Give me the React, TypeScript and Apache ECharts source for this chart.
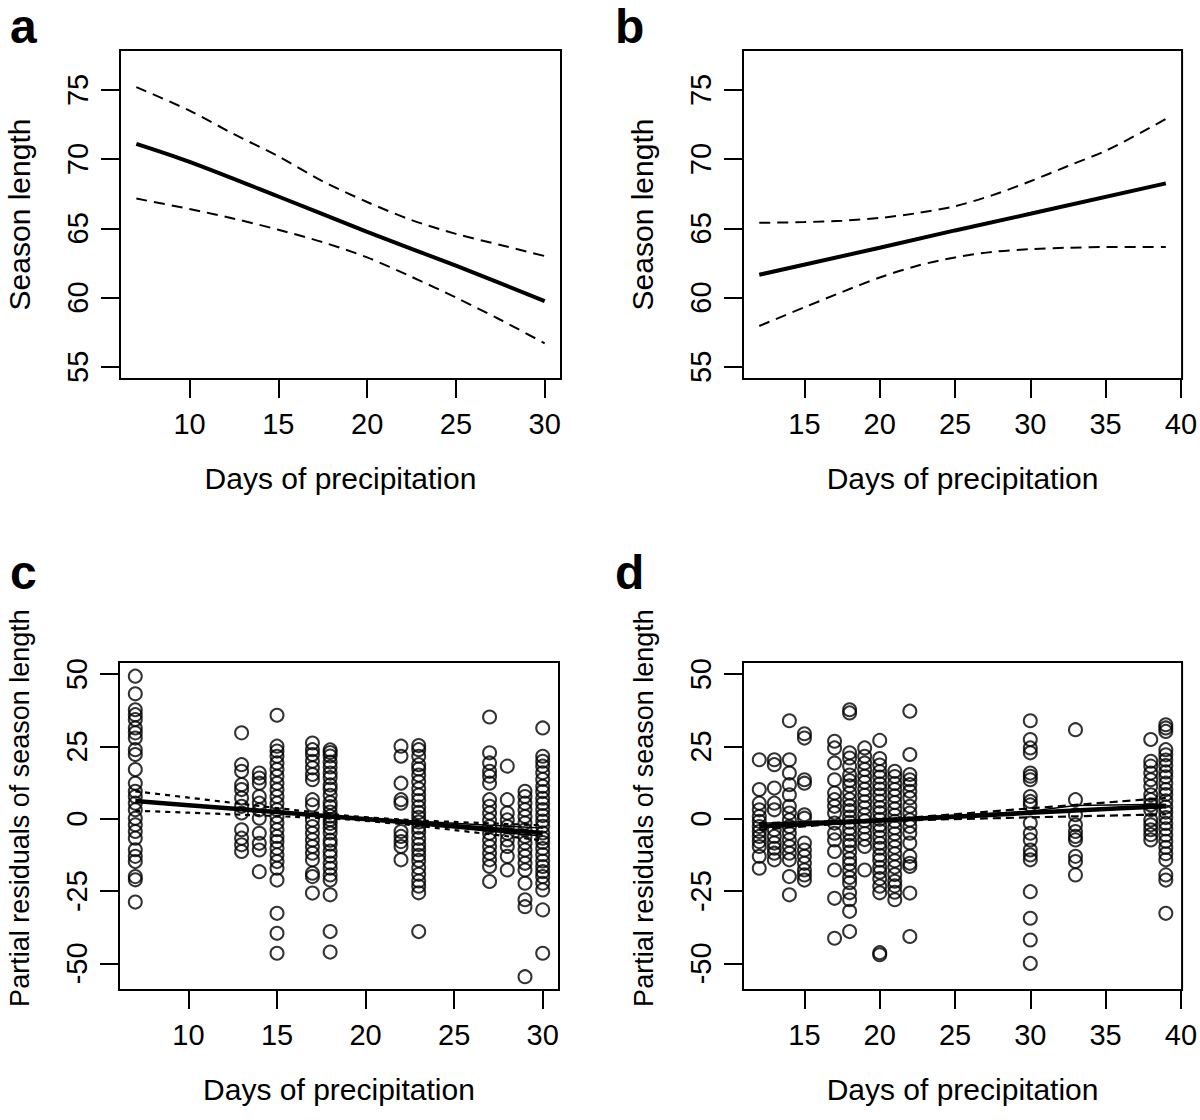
import React, { useEffect, useRef } from "react";
import * as echarts from "echarts";

const FONT = "'Liberation Sans', Arial, Helvetica, sans-serif";

// Tick values
const xTicksAC = [10, 15, 20, 25, 30];
const xTicksBD = [15, 20, 25, 30, 35, 40];
const yTicksAB = [55, 60, 65, 70, 75];
const yTicksCD = [-50, -25, 0, 25, 50];

// Panel a: fitted line and confidence band
const aFitX = [7, 10, 15, 20, 25, 30];
const aFitY = [71.1, 69.8, 67.3, 64.75, 62.3, 59.75];
const aCiX = [7, 10, 12.5, 15, 17.5, 20, 22.5, 25, 27.5, 30];
const aUpperY = [75.2, 73.5, 71.8, 70.2, 68.4, 66.9, 65.6, 64.6, 63.8, 63.0];
const aLowerY = [67.15, 66.4, 65.7, 64.9, 64.0, 62.9, 61.5, 60.0, 58.4, 56.7];

// Panel b
const bFitX = [12, 20, 25, 30, 39];
const bFitY = [61.65, 63.6, 64.85, 66.05, 68.25];
const bCiX = [12, 15, 17.5, 20, 22.5, 25, 27.5, 30, 32.5, 35, 37.5, 39];
const bUpperY = [65.4, 65.45, 65.55, 65.75, 66.1, 66.6, 67.4, 68.4, 69.5, 70.6, 72.0, 72.9];
const bLowerY = [57.95, 59.3, 60.4, 61.45, 62.3, 62.9, 63.3, 63.5, 63.6, 63.65, 63.65, 63.65];

// Panel c: partial residuals by column (days of precipitation)
const cColumns: [number, number[]][] = [
  [7, [49.3, 43.2, 37.7, 36, 34.3, 31.4, 29.7, 27.9, 23.9, 22.2, 17, 12.3, 9.5, 7.7, 5.4, 3.1, 0.2, -2.1, -4.4, -6.7, -10.7, -13, -14.8, -20, -21.1, -28.8]],
  [13, [29.7, 18.7, 16.4, 11.8, 10.1, 7.2, 4.3, 2, -3.8, -6.7, -9, -11.3]],
  [14, [15.8, 14.1, 12.3, 7.7, 5.4, 3.1, 0.2, -5, -8.5, -10.8, -18.3]],
  [15, [35.8, 25.1, 23.4, 21.6, 19.3, 17, 14.7, 12.3, 10, 7.7, 5.4, 3.1, 0.8, -1.5, -3.8, -6.1, -7.9, -10.2, -12.5, -14.8, -17.1, -21.2, -32.7, -39.6, -46.5]],
  [17, [26.2, 23.9, 22.2, 19.9, 17.6, 15.3, 13.5, 6.6, 4.8, -0.4, -2.7, -5, -7.3, -9.6, -11.9, -14.2, -18.8, -20, -25.7]],
  [18, [23.8, 22.9, 21.7, 19.6, 17.9, 15.8, 14.2, 11.7, 10.3, 8.1, 5.6, 4.2, 2.3, 0.9, -0.3, -1.6, -3.2, -4.9, -7.4, -8.8, -11.2, -12.9, -15.3, -17.1, -19.4, -21.2, -26.3, -39, -46.1]],
  [22, [25.1, 21.6, 12.3, 6.6, 5.4, -4.4, -6.1, -7.9, -9.6, -14.2]],
  [23, [25.3, 23.9, 21.6, 18.7, 17.2, 15.1, 12.8, 10.4, 8.2, 6.3, 4.1, 2.2, 0.5, -1.1, -2.9, -4.6, -6.8, -8.9, -10.7, -12.6, -14.4, -16.9, -19.2, -21.5, -23.3, -25.6, -39]],
  [27, [35.2, 22.8, 19.3, 16.4, 14.7, 12.3, 6.6, 4.3, 2, -0.4, -2.7, -5, -7.3, -9.6, -11.9, -14.2, -16.5, -21.7]],
  [28, [18.2, 6.6, 2, -0.4, -2.7, -5, -7.3, -9.6, -13, -17.7]],
  [29, [9.5, 7.7, 5.4, 3.1, 0.8, -1.5, -3.8, -6.1, -8.4, -10.8, -13, -15.4, -17.7, -22.3, -28, -30.4, -54.6]],
  [30, [31.4, 21.6, 19.9, 18.2, 15.9, 13.6, 11.2, 9.4, 7.1, 5.3, 3.2, 1.1, -0.8, -2.6, -4.9, -6.7, -8.2, -10.3, -12.4, -14.6, -16.5, -18.3, -20, -22.3, -24.6, -31.5, -46.5]],
];
const cLineX = [7, 10, 13, 16, 19, 22, 25, 28, 30];
const cFitY = [6.15, 4.71, 3.27, 1.83, 0.39, -1.05, -2.49, -3.93, -4.89];
const cUpperY = [9.5, 7.32, 5.14, 3.01, 1.04, -0.26, -1.09, -1.81, -2.28];
const cLowerY = [2.8, 2.1, 1.4, 0.65, -0.26, -1.84, -3.89, -6.05, -7.5];
const cThinX = [18, 23, 27, 30];
const cThin1Y = [1.0, -0.9, -2.2, -3.2];
const cThin2Y = [0.7, -2.0, -4.3, -6.0];

// Panel d
const dColumns: [number, number[]][] = [
  [12, [20.4, 10.1, 5.4, 3.1, 0.8, -0.9, -2.7, -4.4, -6.1, -7.9, -9.6, -13, -17.1]],
  [13, [20.4, 18.7, 10.6, 5.4, 3.1, -3.8, -6.1, -8.4, -10.2, -11.9, -14.2]],
  [14, [33.9, 20.4, 15.8, 11.8, 8.3, 4.3, 2, -0.4, -2.7, -5, -7.3, -9.6, -11.9, -14.2, -20, -26.3]],
  [15, [29.4, 27.9, 13.5, 12.3, 1.4, 0.2, -8.4, -10.8, -13, -15.4, -17.7, -19.4, -21.2]],
  [17, [26.8, 24.5, 19.3, 13.5, 8.9, 6.6, 4.3, 2, -1.5, -5, -7.3, -11.3, -17.7, -27.5, -41.3]],
  [18, [37.7, 36.6, 22.8, 21, 18.2, 15.1, 13.2, 11.4, 8.9, 6.7, 4.5, 2.8, 0.6, -1.2, -3.4, -5.3, -7.6, -9.2, -11.5, -13.8, -15.6, -17.9, -20.3, -22.1, -25.6, -28, -32, -39]],
  [19, [24.5, 21.6, 19.3, 17, 14.7, 12.6, 10.2, 8.1, 5.9, 3.8, 1.4, -0.7, -2.8, -5.1, -7.2, -9.6, -17.7]],
  [20, [27.1, 20.8, 18.6, 16.3, 14.4, 12.1, 10.3, 8.2, 6.1, 3.9, 2.1, -0.2, -2.3, -4.1, -6.4, -8.5, -10.2, -12.6, -14.3, -16.8, -18.5, -20.7, -23.3, -25.6, -46.3, -47]],
  [21, [16.4, 14.6, 12.2, 10.1, 7.9, 5.6, 3.4, 1.2, -0.9, -3.1, -5.2, -7.6, -9.8, -12.1, -14.5, -16.7, -19.3, -21.6, -23.2, -25.4, -28]],
  [22, [37.2, 22.2, 15.3, 13.5, 11.8, 9.5, 7.2, 4.3, 2, -0.4, -2.7, -5, -8.4, -13, -15.4, -16.5, -25.7, -40.7]],
  [30, [33.9, 27.4, 24.5, 22.8, 15.8, 14.7, 13.5, 7.7, 6, 4.8, -1.5, -5, -7.3, -10.8, -12.5, -14.2, -25.2, -34.4, -41.9, -50]],
  [33, [30.8, 6.6, 1.4, -2.1, -4.4, -6.1, -7.3, -13, -14.8, -19.4]],
  [38, [27.4, 19.9, 18.2, 15.8, 13.5, 11.2, 8.3, 6.6, 4.8, 3.1, -0.4, -2.1, -3.8, -5.5, -7.3]],
  [39, [32.5, 31.4, 30.2, 23.9, 22.1, 20.3, 18.4, 16.2, 14.5, 12.3, 10.1, 8.4, 6.2, 4.1, 2.3, 0.4, -1.6, -3.5, -5.7, -7.8, -9.9, -12.1, -14.2, -19.4, -21.2, -32.7]],
];
const dLineX = [12, 15, 18, 21, 24, 27, 30, 33, 36, 39];
const dFitY = [-2.65, -1.87, -1.09, -0.31, 0.47, 1.25, 2.04, 2.82, 3.6, 4.35];
const dUpperY = [-1.5, -1.13, -0.7, 0.07, 1.19, 2.38, 3.59, 4.8, 6.01, 7.2];
const dLowerY = [-3.8, -2.61, -1.48, -0.69, -0.25, 0.12, 0.49, 0.84, 1.19, 1.5];
const dThinX = [12, 20, 30, 33, 39];
const dThinY = [-1.6, -0.1, 2.6, 4.6, 5.0];

const zip = (xs: number[], ys: number[]) => xs.map((x, i) => [x, ys[i]]);
const flatten = (cols: [number, number[]][]) => cols.flatMap(([x, ys]) => ys.map((y) => [x, y]));

const txt = { color: "#000", fontFamily: FONT };

function makeX(gridIndex: number, min: number, max: number, ticks: number[]) {
  return {
    type: "value", gridIndex, min, max, position: "bottom",
    axisLine: { show: false, onZero: false }, splitLine: { show: false },
    axisTick: { show: true, customValues: ticks, length: 19, lineStyle: { color: "#000", width: 2 } },
    axisLabel: { customValues: ticks, margin: 30, fontSize: 29, ...txt },
    name: "Days of precipitation", nameLocation: "middle", nameGap: 84,
    nameTextStyle: { fontSize: 30, ...txt },
  };
}
function makeY(gridIndex: number, min: number, max: number, ticks: number[], name: string, nameSize: number, shift: number) {
  return {
    type: "value", gridIndex, min, max, position: "left",
    axisLine: { show: false, onZero: false }, splitLine: { show: false },
    axisTick: { show: true, customValues: ticks, length: 19, lineStyle: { color: "#000", width: 2 } },
    axisLabel: { customValues: ticks, margin: 28, fontSize: 29, rotate: 90, ...txt },
    name, nameLocation: "middle", nameGap: 86, nameRotate: 90,
    nameTextStyle: { fontSize: nameSize, ...txt, padding: [0, 0, 0, shift] },
  };
}

function line(idx: number, data: number[][], width: number, type: any, smooth: number | boolean = false) {
  return {
    type: "line", xAxisIndex: idx, yAxisIndex: idx, data, showSymbol: false, symbol: "none",
    smooth, silent: true, lineStyle: { color: "#000", width, type, cap: "butt" }, z: 3,
  };
}
function pts(idx: number, data: number[][]) {
  return {
    type: "scatter", xAxisIndex: idx, yAxisIndex: idx, data, symbol: "circle", symbolSize: 13, silent: true,
    itemStyle: { color: "rgba(0,0,0,0)", borderColor: "#000", borderWidth: 2 }, z: 2,
  };
}

export default function App() {
  const ref = useRef<HTMLDivElement>(null);
  useEffect(() => {
    if (!ref.current) return;
    const chart = echarts.init(ref.current, undefined, { renderer: "svg" });
    const gridBase = { show: true, borderColor: "#000", borderWidth: 2, backgroundColor: "transparent", containLabel: false };
    const labelStyle = (text: string, x: number, y: number) => ({
      type: "text", x, y,
      style: { text, fill: "#000", font: `bold 48px ${FONT}`, verticalAlign: "middle", align: "left" },
    });
    chart.setOption({
      animation: false,
      backgroundColor: "#fff",
      grid: [
        { ...gridBase, left: 120, top: 50, width: 441, height: 329 },
        { ...gridBase, left: 743, top: 50, width: 440, height: 329 },
        { ...gridBase, left: 119, top: 662, width: 440, height: 328 },
        { ...gridBase, left: 743, top: 662, width: 440, height: 328 },
      ],
      xAxis: [
        makeX(0, 6.08, 30.92, xTicksAC),
        makeX(1, 10.92, 40.08, xTicksBD),
        makeX(2, 6.08, 30.92, xTicksAC),
        makeX(3, 10.92, 40.08, xTicksBD),
      ],
      yAxis: [
        makeY(0, 54.12, 77.88, yTicksAB, "Season length", 30, 0),
        makeY(1, 54.12, 77.88, yTicksAB, "Season length", 30, 0),
        makeY(2, -59.2, 54.2, yTicksCD, "Partial residuals of season length", 27, 36),
        makeY(3, -59.2, 54.2, yTicksCD, "Partial residuals of season length", 27, 36),
      ],
      series: [
        line(0, zip(aFitX, aFitY), 4, "solid", 0.3),
        line(0, zip(aCiX, aUpperY), 2, [11, 7], 0.3),
        line(0, zip(aCiX, aLowerY), 2, [11, 7], 0.3),
        line(1, zip(bFitX, bFitY), 4, "solid"),
        line(1, zip(bCiX, bUpperY), 2, [11, 7], 0.3),
        line(1, zip(bCiX, bLowerY), 2, [11, 7], 0.3),
        pts(2, flatten(cColumns)),
        line(2, zip(cLineX, cFitY), 4.5, "solid"),
        line(2, zip(cThinX, cThin1Y), 1.5, "solid"),
        line(2, zip(cThinX, cThin2Y), 1.5, "solid"),
        line(2, zip(cLineX, cUpperY), 2.2, [5, 5], 0.3),
        line(2, zip(cLineX, cLowerY), 2.2, [5, 5], 0.3),
        pts(3, flatten(dColumns)),
        line(3, zip(dLineX, dFitY), 4.5, "solid"),
        line(3, zip(dThinX, dThinY), 1.5, "solid"),
        line(3, zip(dLineX, dUpperY), 2.2, [8, 5], 0.3),
        line(3, zip(dLineX, dLowerY), 2.2, [8, 5], 0.3),
      ],
      graphic: [
        labelStyle("a", 10, 26),
        labelStyle("b", 615, 26),
        labelStyle("c", 10, 572),
        labelStyle("d", 615, 572),
      ],
    });
    return () => chart.dispose();
  }, []);
  return <div ref={ref} style={{ position: "absolute", left: 0, top: 0, width: 1200, height: 1120 }} />;
}
